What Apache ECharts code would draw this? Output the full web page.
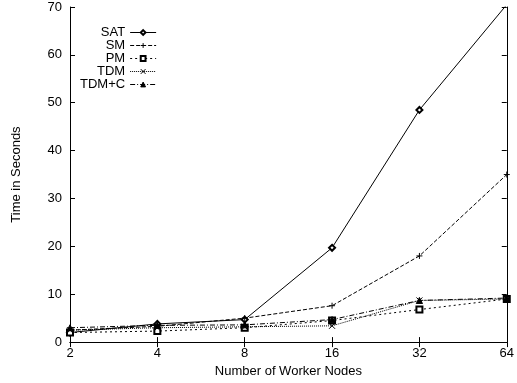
<!DOCTYPE html>
<html>
<head>
<meta charset="utf-8">
<script src="https://cdn.jsdelivr.net/npm/echarts@6/dist/echarts.min.js"></script>
<style>
  html, body { margin: 0; padding: 0; background: #fff; }
  #chart { width: 517px; height: 383px; }
</style>
</head>
<body>
<div id="chart"></div>
<script>
// data
var nodes = ['2', '4', '8', '16', '32', '64']
var satTimes = [2.0, 3.8, 4.7, 19.7, 48.5, 70.5]
var smTimes = [2.5, 3.3, 5.0, 7.6, 18.0, 35.0]
var pmTimes = [2.0, 2.3, 3.0, 4.5, 6.8, 9.0]
var tdmTimes = [2.5, 3.0, 3.2, 3.4, 8.7, 9.0]
var tdmcTimes = [3.0, 3.5, 3.6, 4.7, 8.7, 9.2]
var yTicks = [0, 10, 20, 30, 40, 50, 60, 70]

var plusPath = 'path://M0,5L10,5M5,0L5,10'
var crossPath = 'path://M0,0L10,10M10,0L0,10'
var font = 'Liberation Sans, Arial, sans-serif'

function mkSeries(name, data, symbol, dash, size) {
  return {
    name: name,
    type: 'line',
    data: data,
    symbol: symbol,
    symbolSize: size,
    showAllSymbol: true,
    clip: true,
    lineStyle: { color: '#000', width: 1, type: dash },
    itemStyle: {
      color: '#000',
      borderColor: '#000',
      borderWidth: 1
    },
    emphasis: { disabled: true }
  }
}

var chart = echarts.init(document.getElementById('chart'))
chart.setOption({
  animation: false,
  textStyle: { fontFamily: font },
  grid: { left: 70, right: 8, top: 7, bottom: 37 },
  legend: {
    orient: 'vertical',
    align: 'right',
    left: 75,
    top: 21,
    itemGap: 0,
    itemWidth: 26,
    itemHeight: 6,
    itemStyle: { borderWidth: 1 },
    lineStyle: { width: 1 },
    textStyle: { fontFamily: font, fontSize: 13, color: '#000' },
    data: ['SAT', 'SM', 'PM', 'TDM', 'TDM+C']
  },
  xAxis: [{
    type: 'category',
    data: nodes,
    boundaryGap: false,
    name: 'Number of Worker Nodes',
    nameLocation: 'middle',
    nameGap: 19,
    nameTextStyle: { fontFamily: font, fontSize: 13, color: '#000' },
    axisLine: { lineStyle: { color: '#000', width: 1 } },
    axisTick: { inside: true, length: 5, lineStyle: { color: '#000' } },
    axisLabel: { color: '#000', fontSize: 13, margin: 5 },
    splitLine: { show: false }
  }, {
    type: 'category',
    data: nodes,
    boundaryGap: false,
    position: 'top',
    axisLine: { lineStyle: { color: '#000', width: 1 } },
    axisTick: { inside: true, length: 5, lineStyle: { color: '#000' } },
    axisLabel: { show: false }
  }],
  yAxis: [{
    type: 'value',
    min: yTicks[0],
    max: yTicks[yTicks.length - 1],
    interval: 10,
    name: 'Time in Seconds',
    nameLocation: 'middle',
    nameGap: 47,
    nameTextStyle: { fontFamily: font, fontSize: 13, color: '#000' },
    axisLine: { show: true, lineStyle: { color: '#000', width: 1 } },
    axisTick: { show: true, inside: true, length: 5, lineStyle: { color: '#000' } },
    axisLabel: { color: '#000', fontSize: 13, margin: 8 },
    splitLine: { show: false }
  }, {
    type: 'value',
    min: yTicks[0],
    max: yTicks[yTicks.length - 1],
    interval: 10,
    position: 'right',
    axisLine: { show: true, lineStyle: { color: '#000', width: 1 } },
    axisTick: { show: true, inside: true, length: 5, lineStyle: { color: '#000' } },
    axisLabel: { show: false },
    splitLine: { show: false }
  }],
  series: [
    mkSeries('SAT', satTimes, 'emptyDiamond', 'solid', 6),
    mkSeries('SM', smTimes, plusPath, [4, 2], 6),
    mkSeries('PM', pmTimes, 'emptyRect', [2, 3], 6),
    mkSeries('TDM', tdmTimes, crossPath, [1, 1], 6),
    mkSeries('TDM+C', tdmcTimes, 'triangle', [5, 2, 1, 2], 6)
  ]
})
</script>
</body>
</html>
